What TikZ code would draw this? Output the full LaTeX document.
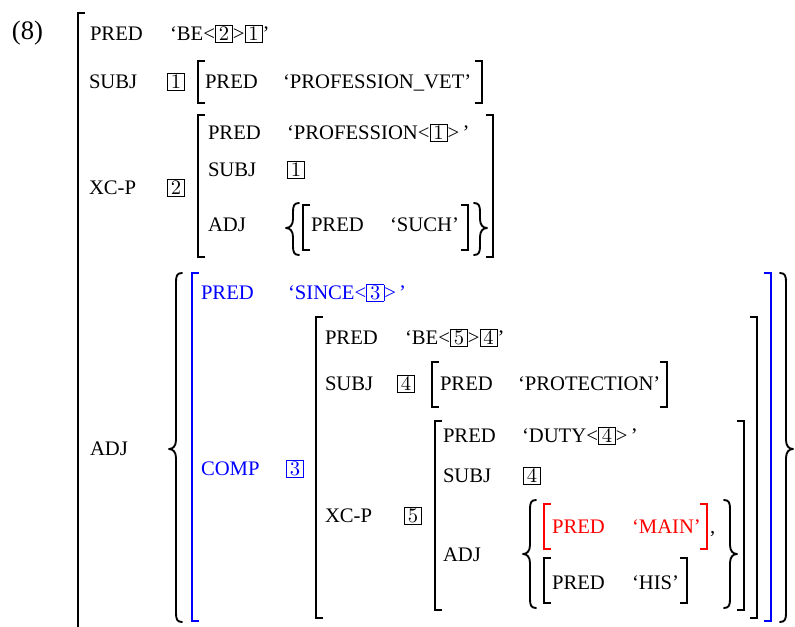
\documentclass[tikz,border=0pt]{standalone}
\usepackage{fontspec}
\setmainfont{Liberation Serif}
\newfontfamily\lmr{lmroman10-regular.otf}
\definecolor{fsblue}{RGB}{0,0,255}
\definecolor{fsred}{RGB}{255,0,0}
\newcommand\bxd[1]{{\setlength\fboxsep{0pt}\setlength\fboxrule{0.5pt}\fbox{\makebox[12.5pt]{\rule[-0.9pt]{0pt}{11.8pt}{\lmr #1}}}}}
\newcommand\gapq{\hspace{2.5pt}}
% brackets: [color]{x}{ytop}{ybot}
\newcommand\brL[4][black]{\draw[brk,#1] (#2+7,#3) -- (#2,#3) -- (#2,#4) -- (#2+7,#4);}
\newcommand\brR[4][black]{\draw[brk,#1] (#2-7,#3) -- (#2,#3) -- (#2,#4) -- (#2-7,#4);}
% braces: {body x}{ytop}{ybot}{ymid}
\newcommand\bcL[4]{\draw[brc] (#1+6,#2) .. controls (#1+1,#2) and (#1,#2+3) .. (#1,#2+9) -- (#1,#4-9) .. controls (#1,#4-3) and (#1-3,#4) .. (#1-7,#4) .. controls (#1-3,#4) and (#1,#4+3) .. (#1,#4+9) -- (#1,#3-9) .. controls (#1,#3-3) and (#1+1,#3) .. (#1+6,#3);}
\newcommand\bcR[4]{\draw[brc] (#1-6,#2) .. controls (#1-1,#2) and (#1,#2+3) .. (#1,#2+9) -- (#1,#4-9) .. controls (#1,#4-3) and (#1+3,#4) .. (#1+7,#4) .. controls (#1+3,#4) and (#1,#4+3) .. (#1,#4+9) -- (#1,#3-9) .. controls (#1,#3-3) and (#1-1,#3) .. (#1-6,#3);}
\tikzset{
  lbl/.style={anchor=base west, inner sep=0pt, outer sep=0pt, font=\fontsize{15.5}{18}\selectfont},
  brk/.style={line width=1pt},
  brc/.style={line width=1.4pt, line cap=round, line join=round},
}
\begin{document}
\begin{tikzpicture}[x=0.75pt,y=-0.75pt]
\useasboundingbox (0,0) rectangle (795,627);
\node[lbl, font=\fontsize{20}{24}\selectfont] (num) at (12,40) {(8)};
% outer bracket
\draw[brk] (78+7,13) -- (78,13) -- (78,627);
% row 1
\node[lbl] (p1) at (90,40.5) {PRED};
\node[lbl] (v1) at (170,40.5) {‘BE<\bxd{2}>\bxd{1}’};
% row 2
\node[lbl] (s1) at (89,88.5) {SUBJ};
\node[lbl] (s1b) at (167,88.5) {\bxd{1}};
\brL{198}{61}{103}
\node[lbl] (s1p) at (205,88.5) {PRED};
\node[lbl] (s1v) at (283,88.5) {‘PROFESSION\_VET’};
\brR{482}{61}{103}
% row 3 XC-P
\node[lbl] (x1) at (89,194.5) {XC-P};
\node[lbl] (x1b) at (167,194.5) {\bxd{2}};
\brL{198}{115}{257}
\brR{493}{115}{257}
\node[lbl] (x1p) at (208,139.5) {PRED};
\node[lbl] (x1pv) at (287,139.5) {‘PROFESSION<\bxd{1}>\gapq’};
\node[lbl] (x1s) at (208,176.5) {SUBJ};
\node[lbl] (x1sb) at (287,176.5) {\bxd{1}};
\node[lbl] (x1a) at (208,231.5) {ADJ};
\bcL{293}{203}{255}{228}
\brL{303}{205}{250}
\node[lbl] (x1ap) at (311,231.5) {PRED};
\node[lbl] (x1av) at (390,231.5) {‘SUCH’};
\brR{468}{205}{250}
\bcR{480}{203}{255}{228}
% row 4 ADJ
\node[lbl] (a1) at (90,455.5) {ADJ};
\bcL{176}{273}{622}{449}
\bcR{786}{273}{622}{449}
\brL[fsblue]{192}{273}{621}
\brR[fsblue]{771}{273}{621}
\node[lbl, text=fsblue] (bp) at (201,299.5) {PRED};
\node[lbl, text=fsblue] (bpv) at (288,299.5) {‘SINCE<\bxd{3}>\gapq’};
\node[lbl, text=fsblue] (bc) at (201,475.5) {COMP};
\node[lbl, text=fsblue] (bcb) at (286,475.5) {\bxd{3}};
\brL{316}{317}{618}
\brR{757}{317}{618}
\node[lbl] (cp) at (325,344.5) {PRED};
\node[lbl] (cpv) at (405,344.5) {‘BE<\bxd{5}>\bxd{4}’};
\node[lbl] (cs) at (325,390.5) {SUBJ};
\node[lbl] (csb) at (397,390.5) {\bxd{4}};
\brL{432}{362}{407}
\node[lbl] (csp) at (440,390.5) {PRED};
\node[lbl] (csv) at (518,390.5) {‘PROTECTION’};
\brR{667}{362}{407}
\node[lbl] (cx) at (325,522.5) {XC-P};
\node[lbl] (cxb) at (404,522.5) {\bxd{5}};
\brL{435}{421}{610}
\brR{744}{421}{610}
\node[lbl] (dp) at (443,442.5) {PRED};
\node[lbl] (dpv) at (522,442.5) {‘DUTY<\bxd{4}>\gapq’};
\node[lbl] (ds) at (443,482.5) {SUBJ};
\node[lbl] (dsb) at (523,482.5) {\bxd{4}};
\node[lbl] (da) at (443,561.5) {ADJ};
\bcL{530}{500}{608}{554}
\bcR{730}{500}{608}{554}
\brL[fsred]{544}{504}{549}
\brR[fsred]{707}{504}{549}
\node[lbl, text=fsred] (mp) at (552,533.5) {PRED};
\node[lbl, text=fsred] (mv) at (632,533.5) {‘MAIN’};
\node[lbl] (mc) at (710,533.5) {,};
\brL{544}{558}{603}
\brR{687}{558}{603}
\node[lbl] (hp) at (552,589.5) {PRED};
\node[lbl] (hv) at (632,589.5) {‘HIS’};
\end{tikzpicture}
\end{document}
